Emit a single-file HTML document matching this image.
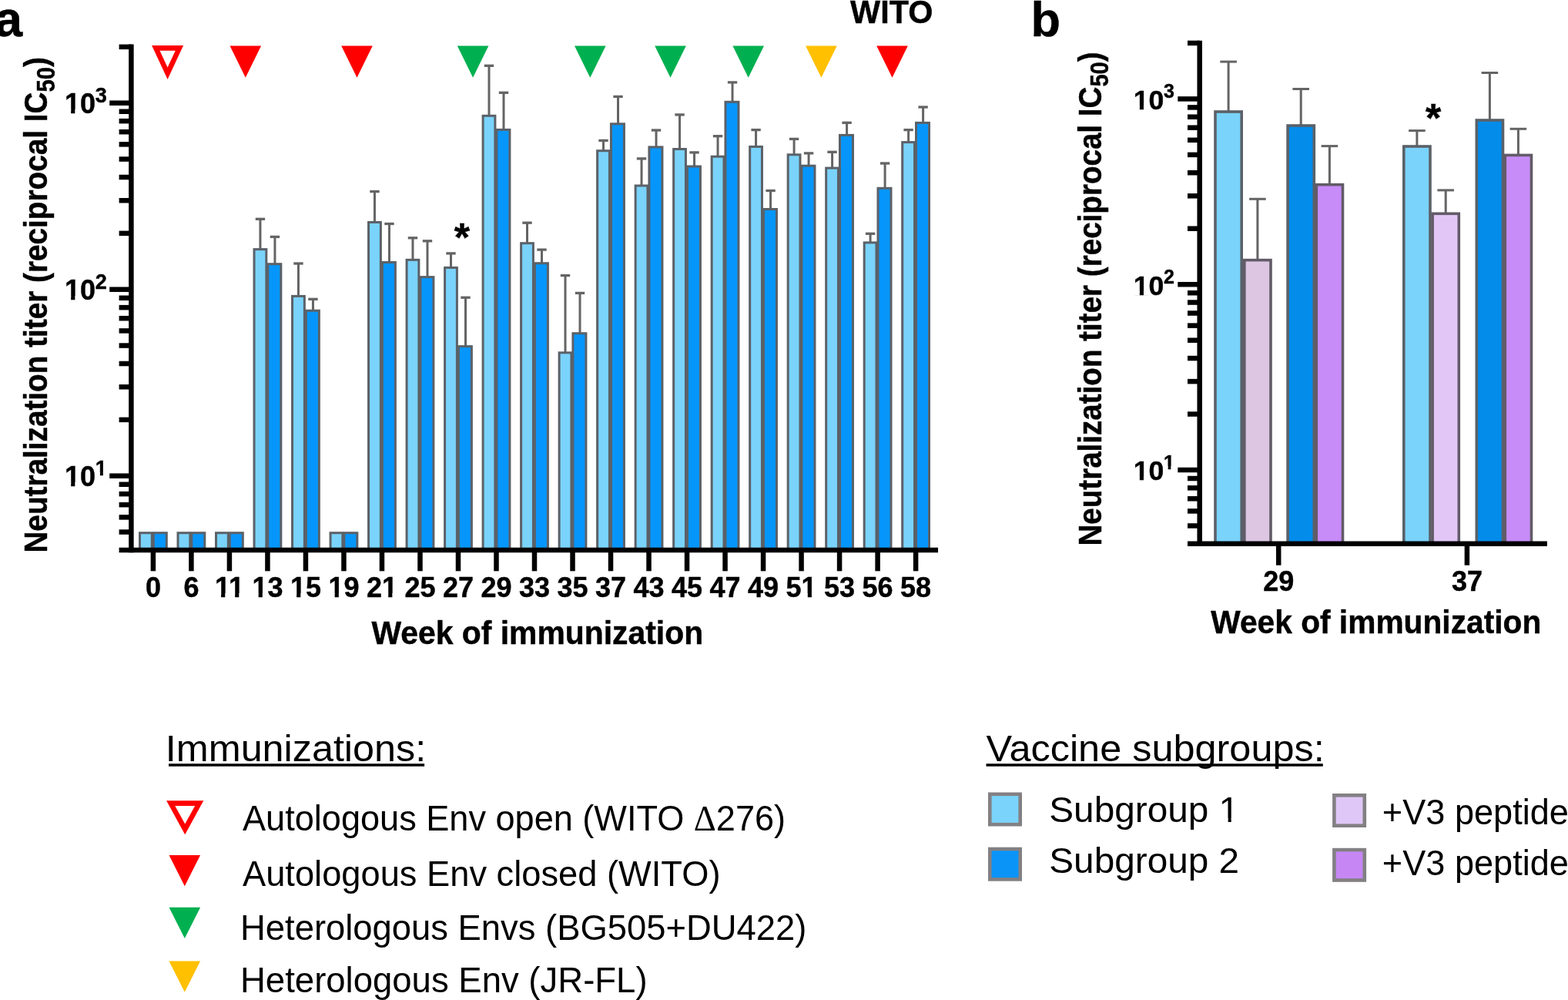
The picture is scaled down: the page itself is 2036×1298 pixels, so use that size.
<!DOCTYPE html>
<html><head><meta charset="utf-8"><title>Neutralization titers</title>
<style>
html,body{margin:0;padding:0;background:#fff;overflow:hidden;}
svg{display:block;}
text{font-family:"Liberation Sans", Arial, Helvetica, sans-serif;fill:#000;}
text[font-weight="bold"]{stroke:#000;stroke-width:0.45px;}
</style></head><body>
<svg width="2036" height="1298" viewBox="0 0 2036 1298">
<rect width="2036" height="1298" fill="#fff"/>
<rect x="181.50" y="691.70" width="15.80" height="22.30" fill="#7AD3FB" stroke="#5B6168" stroke-width="3.0"/>
<rect x="199.30" y="691.70" width="17.00" height="22.30" fill="#0696FB" stroke="#5B6168" stroke-width="3.0"/>
<rect x="231.01" y="691.70" width="15.80" height="22.30" fill="#7AD3FB" stroke="#5B6168" stroke-width="3.0"/>
<rect x="248.81" y="691.70" width="17.00" height="22.30" fill="#0696FB" stroke="#5B6168" stroke-width="3.0"/>
<rect x="280.52" y="691.70" width="15.80" height="22.30" fill="#7AD3FB" stroke="#5B6168" stroke-width="3.0"/>
<rect x="298.32" y="691.70" width="17.00" height="22.30" fill="#0696FB" stroke="#5B6168" stroke-width="3.0"/>
<line x1="337.93" y1="284.30" x2="337.93" y2="323.60" stroke="#646464" stroke-width="3"/>
<line x1="331.73" y1="284.30" x2="344.13" y2="284.30" stroke="#646464" stroke-width="3.3"/>
<rect x="330.03" y="323.60" width="15.80" height="390.40" fill="#7AD3FB" stroke="#5B6168" stroke-width="3.0"/>
<line x1="356.93" y1="307.40" x2="356.93" y2="342.70" stroke="#646464" stroke-width="3"/>
<line x1="350.73" y1="307.40" x2="363.13" y2="307.40" stroke="#646464" stroke-width="3.3"/>
<rect x="347.83" y="342.70" width="17.00" height="371.30" fill="#0696FB" stroke="#5B6168" stroke-width="3.0"/>
<line x1="387.44" y1="342.00" x2="387.44" y2="384.40" stroke="#646464" stroke-width="3"/>
<line x1="381.24" y1="342.00" x2="393.64" y2="342.00" stroke="#646464" stroke-width="3.3"/>
<rect x="379.54" y="384.40" width="15.80" height="329.60" fill="#7AD3FB" stroke="#5B6168" stroke-width="3.0"/>
<line x1="406.44" y1="388.30" x2="406.44" y2="403.20" stroke="#646464" stroke-width="3"/>
<line x1="400.24" y1="388.30" x2="412.64" y2="388.30" stroke="#646464" stroke-width="3.3"/>
<rect x="397.34" y="403.20" width="17.00" height="310.80" fill="#0696FB" stroke="#5B6168" stroke-width="3.0"/>
<rect x="429.05" y="691.70" width="15.80" height="22.30" fill="#7AD3FB" stroke="#5B6168" stroke-width="3.0"/>
<rect x="446.85" y="691.70" width="17.00" height="22.30" fill="#0696FB" stroke="#5B6168" stroke-width="3.0"/>
<line x1="486.46" y1="248.60" x2="486.46" y2="288.50" stroke="#646464" stroke-width="3"/>
<line x1="480.26" y1="248.60" x2="492.66" y2="248.60" stroke="#646464" stroke-width="3.3"/>
<rect x="478.56" y="288.50" width="15.80" height="425.50" fill="#7AD3FB" stroke="#5B6168" stroke-width="3.0"/>
<line x1="505.46" y1="290.50" x2="505.46" y2="340.50" stroke="#646464" stroke-width="3"/>
<line x1="499.26" y1="290.50" x2="511.66" y2="290.50" stroke="#646464" stroke-width="3.3"/>
<rect x="496.36" y="340.50" width="17.00" height="373.50" fill="#0696FB" stroke="#5B6168" stroke-width="3.0"/>
<line x1="535.97" y1="308.80" x2="535.97" y2="337.30" stroke="#646464" stroke-width="3"/>
<line x1="529.77" y1="308.80" x2="542.17" y2="308.80" stroke="#646464" stroke-width="3.3"/>
<rect x="528.07" y="337.30" width="15.80" height="376.70" fill="#7AD3FB" stroke="#5B6168" stroke-width="3.0"/>
<line x1="554.97" y1="312.80" x2="554.97" y2="359.60" stroke="#646464" stroke-width="3"/>
<line x1="548.77" y1="312.80" x2="561.17" y2="312.80" stroke="#646464" stroke-width="3.3"/>
<rect x="545.87" y="359.60" width="17.00" height="354.40" fill="#0696FB" stroke="#5B6168" stroke-width="3.0"/>
<line x1="585.48" y1="328.90" x2="585.48" y2="347.40" stroke="#646464" stroke-width="3"/>
<line x1="579.28" y1="328.90" x2="591.68" y2="328.90" stroke="#646464" stroke-width="3.3"/>
<rect x="577.58" y="347.40" width="15.80" height="366.60" fill="#7AD3FB" stroke="#5B6168" stroke-width="3.0"/>
<line x1="604.48" y1="386.20" x2="604.48" y2="449.60" stroke="#646464" stroke-width="3"/>
<line x1="598.28" y1="386.20" x2="610.68" y2="386.20" stroke="#646464" stroke-width="3.3"/>
<rect x="595.38" y="449.60" width="17.00" height="264.40" fill="#0696FB" stroke="#5B6168" stroke-width="3.0"/>
<line x1="634.99" y1="85.30" x2="634.99" y2="150.30" stroke="#646464" stroke-width="3"/>
<line x1="628.79" y1="85.30" x2="641.19" y2="85.30" stroke="#646464" stroke-width="3.3"/>
<rect x="627.09" y="150.30" width="15.80" height="563.70" fill="#7AD3FB" stroke="#5B6168" stroke-width="3.0"/>
<line x1="653.99" y1="120.30" x2="653.99" y2="168.40" stroke="#646464" stroke-width="3"/>
<line x1="647.79" y1="120.30" x2="660.19" y2="120.30" stroke="#646464" stroke-width="3.3"/>
<rect x="644.89" y="168.40" width="17.00" height="545.60" fill="#0696FB" stroke="#5B6168" stroke-width="3.0"/>
<line x1="684.50" y1="289.20" x2="684.50" y2="315.70" stroke="#646464" stroke-width="3"/>
<line x1="678.30" y1="289.20" x2="690.70" y2="289.20" stroke="#646464" stroke-width="3.3"/>
<rect x="676.60" y="315.70" width="15.80" height="398.30" fill="#7AD3FB" stroke="#5B6168" stroke-width="3.0"/>
<line x1="703.50" y1="324.10" x2="703.50" y2="341.70" stroke="#646464" stroke-width="3"/>
<line x1="697.30" y1="324.10" x2="709.70" y2="324.10" stroke="#646464" stroke-width="3.3"/>
<rect x="694.40" y="341.70" width="17.00" height="372.30" fill="#0696FB" stroke="#5B6168" stroke-width="3.0"/>
<line x1="734.01" y1="357.60" x2="734.01" y2="457.80" stroke="#646464" stroke-width="3"/>
<line x1="727.81" y1="357.60" x2="740.21" y2="357.60" stroke="#646464" stroke-width="3.3"/>
<rect x="726.11" y="457.80" width="15.80" height="256.20" fill="#7AD3FB" stroke="#5B6168" stroke-width="3.0"/>
<line x1="753.01" y1="380.40" x2="753.01" y2="432.70" stroke="#646464" stroke-width="3"/>
<line x1="746.81" y1="380.40" x2="759.21" y2="380.40" stroke="#646464" stroke-width="3.3"/>
<rect x="743.91" y="432.70" width="17.00" height="281.30" fill="#0696FB" stroke="#5B6168" stroke-width="3.0"/>
<line x1="783.52" y1="182.40" x2="783.52" y2="195.70" stroke="#646464" stroke-width="3"/>
<line x1="777.32" y1="182.40" x2="789.72" y2="182.40" stroke="#646464" stroke-width="3.3"/>
<rect x="775.62" y="195.70" width="15.80" height="518.30" fill="#7AD3FB" stroke="#5B6168" stroke-width="3.0"/>
<line x1="802.52" y1="125.40" x2="802.52" y2="160.80" stroke="#646464" stroke-width="3"/>
<line x1="796.32" y1="125.40" x2="808.72" y2="125.40" stroke="#646464" stroke-width="3.3"/>
<rect x="793.42" y="160.80" width="17.00" height="553.20" fill="#0696FB" stroke="#5B6168" stroke-width="3.0"/>
<line x1="833.03" y1="205.90" x2="833.03" y2="241.00" stroke="#646464" stroke-width="3"/>
<line x1="826.83" y1="205.90" x2="839.23" y2="205.90" stroke="#646464" stroke-width="3.3"/>
<rect x="825.13" y="241.00" width="15.80" height="473.00" fill="#7AD3FB" stroke="#5B6168" stroke-width="3.0"/>
<line x1="852.03" y1="169.00" x2="852.03" y2="190.90" stroke="#646464" stroke-width="3"/>
<line x1="845.83" y1="169.00" x2="858.23" y2="169.00" stroke="#646464" stroke-width="3.3"/>
<rect x="842.93" y="190.90" width="17.00" height="523.10" fill="#0696FB" stroke="#5B6168" stroke-width="3.0"/>
<line x1="882.54" y1="148.90" x2="882.54" y2="193.50" stroke="#646464" stroke-width="3"/>
<line x1="876.34" y1="148.90" x2="888.74" y2="148.90" stroke="#646464" stroke-width="3.3"/>
<rect x="874.64" y="193.50" width="15.80" height="520.50" fill="#7AD3FB" stroke="#5B6168" stroke-width="3.0"/>
<line x1="901.54" y1="197.90" x2="901.54" y2="216.00" stroke="#646464" stroke-width="3"/>
<line x1="895.34" y1="197.90" x2="907.74" y2="197.90" stroke="#646464" stroke-width="3.3"/>
<rect x="892.44" y="216.00" width="17.00" height="498.00" fill="#0696FB" stroke="#5B6168" stroke-width="3.0"/>
<line x1="932.05" y1="176.70" x2="932.05" y2="203.20" stroke="#646464" stroke-width="3"/>
<line x1="925.85" y1="176.70" x2="938.25" y2="176.70" stroke="#646464" stroke-width="3.3"/>
<rect x="924.15" y="203.20" width="15.80" height="510.80" fill="#7AD3FB" stroke="#5B6168" stroke-width="3.0"/>
<line x1="951.05" y1="106.90" x2="951.05" y2="132.30" stroke="#646464" stroke-width="3"/>
<line x1="944.85" y1="106.90" x2="957.25" y2="106.90" stroke="#646464" stroke-width="3.3"/>
<rect x="941.95" y="132.30" width="17.00" height="581.70" fill="#0696FB" stroke="#5B6168" stroke-width="3.0"/>
<line x1="981.56" y1="168.60" x2="981.56" y2="190.40" stroke="#646464" stroke-width="3"/>
<line x1="975.36" y1="168.60" x2="987.76" y2="168.60" stroke="#646464" stroke-width="3.3"/>
<rect x="973.66" y="190.40" width="15.80" height="523.60" fill="#7AD3FB" stroke="#5B6168" stroke-width="3.0"/>
<line x1="1000.56" y1="247.50" x2="1000.56" y2="271.50" stroke="#646464" stroke-width="3"/>
<line x1="994.36" y1="247.50" x2="1006.76" y2="247.50" stroke="#646464" stroke-width="3.3"/>
<rect x="991.46" y="271.50" width="17.00" height="442.50" fill="#0696FB" stroke="#5B6168" stroke-width="3.0"/>
<line x1="1031.07" y1="180.40" x2="1031.07" y2="200.80" stroke="#646464" stroke-width="3"/>
<line x1="1024.87" y1="180.40" x2="1037.27" y2="180.40" stroke="#646464" stroke-width="3.3"/>
<rect x="1023.17" y="200.80" width="15.80" height="513.20" fill="#7AD3FB" stroke="#5B6168" stroke-width="3.0"/>
<line x1="1050.07" y1="198.90" x2="1050.07" y2="215.20" stroke="#646464" stroke-width="3"/>
<line x1="1043.87" y1="198.90" x2="1056.27" y2="198.90" stroke="#646464" stroke-width="3.3"/>
<rect x="1040.97" y="215.20" width="17.00" height="498.80" fill="#0696FB" stroke="#5B6168" stroke-width="3.0"/>
<line x1="1080.58" y1="197.30" x2="1080.58" y2="218.10" stroke="#646464" stroke-width="3"/>
<line x1="1074.38" y1="197.30" x2="1086.78" y2="197.30" stroke="#646464" stroke-width="3.3"/>
<rect x="1072.68" y="218.10" width="15.80" height="495.90" fill="#7AD3FB" stroke="#5B6168" stroke-width="3.0"/>
<line x1="1099.58" y1="159.30" x2="1099.58" y2="175.40" stroke="#646464" stroke-width="3"/>
<line x1="1093.38" y1="159.30" x2="1105.78" y2="159.30" stroke="#646464" stroke-width="3.3"/>
<rect x="1090.48" y="175.40" width="17.00" height="538.60" fill="#0696FB" stroke="#5B6168" stroke-width="3.0"/>
<line x1="1130.09" y1="303.30" x2="1130.09" y2="314.90" stroke="#646464" stroke-width="3"/>
<line x1="1123.89" y1="303.30" x2="1136.29" y2="303.30" stroke="#646464" stroke-width="3.3"/>
<rect x="1122.19" y="314.90" width="15.80" height="399.10" fill="#7AD3FB" stroke="#5B6168" stroke-width="3.0"/>
<line x1="1149.09" y1="212.00" x2="1149.09" y2="244.30" stroke="#646464" stroke-width="3"/>
<line x1="1142.89" y1="212.00" x2="1155.29" y2="212.00" stroke="#646464" stroke-width="3.3"/>
<rect x="1139.99" y="244.30" width="17.00" height="469.70" fill="#0696FB" stroke="#5B6168" stroke-width="3.0"/>
<line x1="1179.60" y1="168.60" x2="1179.60" y2="184.60" stroke="#646464" stroke-width="3"/>
<line x1="1173.40" y1="168.60" x2="1185.80" y2="168.60" stroke="#646464" stroke-width="3.3"/>
<rect x="1171.70" y="184.60" width="15.80" height="529.40" fill="#7AD3FB" stroke="#5B6168" stroke-width="3.0"/>
<line x1="1198.60" y1="139.00" x2="1198.60" y2="159.40" stroke="#646464" stroke-width="3"/>
<line x1="1192.40" y1="139.00" x2="1204.80" y2="139.00" stroke="#646464" stroke-width="3.3"/>
<rect x="1189.50" y="159.40" width="17.00" height="554.60" fill="#0696FB" stroke="#5B6168" stroke-width="3.0"/>
<line x1="198.90" y1="714.00" x2="198.90" y2="741.3" stroke="#000" stroke-width="6.5"/>
<text x="198.90" y="774.9" font-size="36" font-weight="bold" text-anchor="middle">0</text>
<line x1="248.41" y1="714.00" x2="248.41" y2="741.3" stroke="#000" stroke-width="6.5"/>
<text x="248.41" y="774.9" font-size="36" font-weight="bold" text-anchor="middle">6</text>
<line x1="297.92" y1="714.00" x2="297.92" y2="741.3" stroke="#000" stroke-width="6.5"/>
<text x="297.92" y="774.9" font-size="36" font-weight="bold" text-anchor="middle">11</text>
<line x1="347.43" y1="714.00" x2="347.43" y2="741.3" stroke="#000" stroke-width="6.5"/>
<text x="347.43" y="774.9" font-size="36" font-weight="bold" text-anchor="middle">13</text>
<line x1="396.94" y1="714.00" x2="396.94" y2="741.3" stroke="#000" stroke-width="6.5"/>
<text x="396.94" y="774.9" font-size="36" font-weight="bold" text-anchor="middle">15</text>
<line x1="446.45" y1="714.00" x2="446.45" y2="741.3" stroke="#000" stroke-width="6.5"/>
<text x="446.45" y="774.9" font-size="36" font-weight="bold" text-anchor="middle">19</text>
<line x1="495.96" y1="714.00" x2="495.96" y2="741.3" stroke="#000" stroke-width="6.5"/>
<text x="495.96" y="774.9" font-size="36" font-weight="bold" text-anchor="middle">21</text>
<line x1="545.47" y1="714.00" x2="545.47" y2="741.3" stroke="#000" stroke-width="6.5"/>
<text x="545.47" y="774.9" font-size="36" font-weight="bold" text-anchor="middle">25</text>
<line x1="594.98" y1="714.00" x2="594.98" y2="741.3" stroke="#000" stroke-width="6.5"/>
<text x="594.98" y="774.9" font-size="36" font-weight="bold" text-anchor="middle">27</text>
<line x1="644.49" y1="714.00" x2="644.49" y2="741.3" stroke="#000" stroke-width="6.5"/>
<text x="644.49" y="774.9" font-size="36" font-weight="bold" text-anchor="middle">29</text>
<line x1="694.00" y1="714.00" x2="694.00" y2="741.3" stroke="#000" stroke-width="6.5"/>
<text x="694.00" y="774.9" font-size="36" font-weight="bold" text-anchor="middle">33</text>
<line x1="743.51" y1="714.00" x2="743.51" y2="741.3" stroke="#000" stroke-width="6.5"/>
<text x="743.51" y="774.9" font-size="36" font-weight="bold" text-anchor="middle">35</text>
<line x1="793.02" y1="714.00" x2="793.02" y2="741.3" stroke="#000" stroke-width="6.5"/>
<text x="793.02" y="774.9" font-size="36" font-weight="bold" text-anchor="middle">37</text>
<line x1="842.53" y1="714.00" x2="842.53" y2="741.3" stroke="#000" stroke-width="6.5"/>
<text x="842.53" y="774.9" font-size="36" font-weight="bold" text-anchor="middle">43</text>
<line x1="892.04" y1="714.00" x2="892.04" y2="741.3" stroke="#000" stroke-width="6.5"/>
<text x="892.04" y="774.9" font-size="36" font-weight="bold" text-anchor="middle">45</text>
<line x1="941.55" y1="714.00" x2="941.55" y2="741.3" stroke="#000" stroke-width="6.5"/>
<text x="941.55" y="774.9" font-size="36" font-weight="bold" text-anchor="middle">47</text>
<line x1="991.06" y1="714.00" x2="991.06" y2="741.3" stroke="#000" stroke-width="6.5"/>
<text x="991.06" y="774.9" font-size="36" font-weight="bold" text-anchor="middle">49</text>
<line x1="1040.57" y1="714.00" x2="1040.57" y2="741.3" stroke="#000" stroke-width="6.5"/>
<text x="1040.57" y="774.9" font-size="36" font-weight="bold" text-anchor="middle">51</text>
<line x1="1090.08" y1="714.00" x2="1090.08" y2="741.3" stroke="#000" stroke-width="6.5"/>
<text x="1090.08" y="774.9" font-size="36" font-weight="bold" text-anchor="middle">53</text>
<line x1="1139.59" y1="714.00" x2="1139.59" y2="741.3" stroke="#000" stroke-width="6.5"/>
<text x="1139.59" y="774.9" font-size="36" font-weight="bold" text-anchor="middle">56</text>
<line x1="1189.10" y1="714.00" x2="1189.10" y2="741.3" stroke="#000" stroke-width="6.5"/>
<text x="1189.10" y="774.9" font-size="36" font-weight="bold" text-anchor="middle">58</text>
<line x1="170.4" y1="57.60" x2="170.4" y2="717.25" stroke="#000" stroke-width="6.5"/>
<line x1="154.6" y1="690.55" x2="170.4" y2="690.55" stroke="#000" stroke-width="6.5"/>
<line x1="154.6" y1="671.39" x2="170.4" y2="671.39" stroke="#000" stroke-width="6.5"/>
<line x1="154.6" y1="655.19" x2="170.4" y2="655.19" stroke="#000" stroke-width="6.5"/>
<line x1="154.6" y1="641.15" x2="170.4" y2="641.15" stroke="#000" stroke-width="6.5"/>
<line x1="154.6" y1="628.77" x2="170.4" y2="628.77" stroke="#000" stroke-width="6.5"/>
<line x1="142.2" y1="617.70" x2="170.4" y2="617.70" stroke="#000" stroke-width="6.5"/>
<line x1="154.6" y1="544.85" x2="170.4" y2="544.85" stroke="#000" stroke-width="6.5"/>
<line x1="154.6" y1="502.24" x2="170.4" y2="502.24" stroke="#000" stroke-width="6.5"/>
<line x1="154.6" y1="472.00" x2="170.4" y2="472.00" stroke="#000" stroke-width="6.5"/>
<line x1="154.6" y1="448.55" x2="170.4" y2="448.55" stroke="#000" stroke-width="6.5"/>
<line x1="154.6" y1="429.39" x2="170.4" y2="429.39" stroke="#000" stroke-width="6.5"/>
<line x1="154.6" y1="413.19" x2="170.4" y2="413.19" stroke="#000" stroke-width="6.5"/>
<line x1="154.6" y1="399.15" x2="170.4" y2="399.15" stroke="#000" stroke-width="6.5"/>
<line x1="154.6" y1="386.77" x2="170.4" y2="386.77" stroke="#000" stroke-width="6.5"/>
<line x1="142.2" y1="375.70" x2="170.4" y2="375.70" stroke="#000" stroke-width="6.5"/>
<line x1="154.6" y1="302.85" x2="170.4" y2="302.85" stroke="#000" stroke-width="6.5"/>
<line x1="154.6" y1="260.24" x2="170.4" y2="260.24" stroke="#000" stroke-width="6.5"/>
<line x1="154.6" y1="230.00" x2="170.4" y2="230.00" stroke="#000" stroke-width="6.5"/>
<line x1="154.6" y1="206.55" x2="170.4" y2="206.55" stroke="#000" stroke-width="6.5"/>
<line x1="154.6" y1="187.39" x2="170.4" y2="187.39" stroke="#000" stroke-width="6.5"/>
<line x1="154.6" y1="171.19" x2="170.4" y2="171.19" stroke="#000" stroke-width="6.5"/>
<line x1="154.6" y1="157.15" x2="170.4" y2="157.15" stroke="#000" stroke-width="6.5"/>
<line x1="154.6" y1="144.77" x2="170.4" y2="144.77" stroke="#000" stroke-width="6.5"/>
<line x1="142.2" y1="133.70" x2="170.4" y2="133.70" stroke="#000" stroke-width="6.5"/>
<line x1="154.6" y1="60.85" x2="170.4" y2="60.85" stroke="#000" stroke-width="6.5"/>
<line x1="154.6" y1="714.00" x2="1218" y2="714.00" stroke="#000" stroke-width="6.5"/>
<polygon points="197.10,59.10 238.10,59.10 217.60,103.00" fill="#FF0000"/>
<polygon points="207.47,65.70 227.73,65.70 217.60,87.40" fill="#fff"/>
<polygon points="298.50,59.60 339.10,59.60 318.80,100.80" fill="#FF0000"/>
<polygon points="443.20,59.60 483.80,59.60 463.50,100.80" fill="#FF0000"/>
<polygon points="593.80,59.60 634.40,59.60 614.10,100.80" fill="#00B050"/>
<polygon points="746.00,59.60 786.60,59.60 766.30,100.80" fill="#00B050"/>
<polygon points="850.20,59.60 890.80,59.60 870.50,100.80" fill="#00B050"/>
<polygon points="951.40,59.60 992.00,59.60 971.70,100.80" fill="#00B050"/>
<polygon points="1046.10,59.60 1086.70,59.60 1066.40,100.80" fill="#FFC000"/>
<polygon points="1138.20,59.60 1178.80,59.60 1158.50,100.80" fill="#FF0000"/>
<text x="-7" y="46.9" font-size="65" font-weight="bold">a</text>
<text x="0" y="0" font-size="43" font-weight="bold" transform="translate(1104.10,30.20) scale(0.9627,1)">WITO</text>
<text x="0" y="0" font-size="42" font-weight="bold" transform="translate(482.40,836.30) scale(0.9732,1)">Week of immunization</text>
<text font-size="43" font-weight="bold" transform="translate(61.4,717.6) rotate(-90) scale(0.9008,1)" x="0" y="0">Neutralization titer (reciprocal IC<tspan font-size="32.5" dy="9.5">50</tspan><tspan dy="-9.5">)</tspan></text>
<text y="630.90" font-size="36" font-weight="bold" text-anchor="end" x="124.00">10</text>
<text y="616.90" font-size="27" font-weight="bold" x="123.80">1</text>
<text y="388.90" font-size="36" font-weight="bold" text-anchor="end" x="124.00">10</text>
<text y="374.90" font-size="27" font-weight="bold" x="123.80">2</text>
<text y="146.90" font-size="36" font-weight="bold" text-anchor="end" x="124.00">10</text>
<text y="132.90" font-size="27" font-weight="bold" x="123.80">3</text>
<text x="599.8" y="325.5" font-size="52" font-weight="bold" text-anchor="middle">*</text>
<line x1="1595.10" y1="80.10" x2="1595.10" y2="145.00" stroke="#646464" stroke-width="3"/>
<line x1="1584.30" y1="80.10" x2="1605.90" y2="80.10" stroke="#646464" stroke-width="3"/>
<rect x="1578.00" y="145.00" width="34.2" height="560.82" fill="#7AD3FB" stroke="#5B6168" stroke-width="3.6"/>
<line x1="1632.90" y1="258.30" x2="1632.90" y2="337.60" stroke="#646464" stroke-width="3"/>
<line x1="1622.10" y1="258.30" x2="1643.70" y2="258.30" stroke="#646464" stroke-width="3"/>
<rect x="1615.80" y="337.60" width="34.2" height="368.22" fill="#DCC6E2" stroke="#625B68" stroke-width="3.6"/>
<line x1="1689.20" y1="115.50" x2="1689.20" y2="163.00" stroke="#646464" stroke-width="3"/>
<line x1="1678.40" y1="115.50" x2="1700.00" y2="115.50" stroke="#646464" stroke-width="3"/>
<rect x="1672.10" y="163.00" width="34.2" height="542.82" fill="#038CEA" stroke="#5B6168" stroke-width="3.6"/>
<line x1="1726.40" y1="189.60" x2="1726.40" y2="239.70" stroke="#646464" stroke-width="3"/>
<line x1="1715.60" y1="189.60" x2="1737.20" y2="189.60" stroke="#646464" stroke-width="3"/>
<rect x="1709.30" y="239.70" width="34.2" height="466.12" fill="#C78CF8" stroke="#625B68" stroke-width="3.6"/>
<line x1="1839.90" y1="169.60" x2="1839.90" y2="190.00" stroke="#646464" stroke-width="3"/>
<line x1="1829.10" y1="169.60" x2="1850.70" y2="169.60" stroke="#646464" stroke-width="3"/>
<rect x="1822.80" y="190.00" width="34.2" height="515.82" fill="#7AD3FB" stroke="#5B6168" stroke-width="3.6"/>
<line x1="1877.20" y1="246.90" x2="1877.20" y2="277.30" stroke="#646464" stroke-width="3"/>
<line x1="1866.40" y1="246.90" x2="1888.00" y2="246.90" stroke="#646464" stroke-width="3"/>
<rect x="1860.10" y="277.30" width="34.2" height="428.52" fill="#E2C7F6" stroke="#625B68" stroke-width="3.6"/>
<line x1="1934.40" y1="94.50" x2="1934.40" y2="156.00" stroke="#646464" stroke-width="3"/>
<line x1="1923.60" y1="94.50" x2="1945.20" y2="94.50" stroke="#646464" stroke-width="3"/>
<rect x="1917.30" y="156.00" width="34.2" height="549.82" fill="#038CEA" stroke="#5B6168" stroke-width="3.6"/>
<line x1="1971.40" y1="167.30" x2="1971.40" y2="201.40" stroke="#646464" stroke-width="3"/>
<line x1="1960.60" y1="167.30" x2="1982.20" y2="167.30" stroke="#646464" stroke-width="3"/>
<rect x="1954.30" y="201.40" width="34.2" height="504.42" fill="#C78CF8" stroke="#625B68" stroke-width="3.6"/>
<line x1="1557.7" y1="52.66" x2="1557.7" y2="709.07" stroke="#000" stroke-width="6.5"/>
<line x1="1542" y1="682.49" x2="1557.7" y2="682.49" stroke="#000" stroke-width="6.5"/>
<line x1="1542" y1="663.42" x2="1557.7" y2="663.42" stroke="#000" stroke-width="6.5"/>
<line x1="1542" y1="647.30" x2="1557.7" y2="647.30" stroke="#000" stroke-width="6.5"/>
<line x1="1542" y1="633.34" x2="1557.7" y2="633.34" stroke="#000" stroke-width="6.5"/>
<line x1="1542" y1="621.02" x2="1557.7" y2="621.02" stroke="#000" stroke-width="6.5"/>
<line x1="1529.3" y1="610.00" x2="1557.7" y2="610.00" stroke="#000" stroke-width="6.5"/>
<line x1="1542" y1="537.51" x2="1557.7" y2="537.51" stroke="#000" stroke-width="6.5"/>
<line x1="1542" y1="495.11" x2="1557.7" y2="495.11" stroke="#000" stroke-width="6.5"/>
<line x1="1542" y1="465.02" x2="1557.7" y2="465.02" stroke="#000" stroke-width="6.5"/>
<line x1="1542" y1="441.69" x2="1557.7" y2="441.69" stroke="#000" stroke-width="6.5"/>
<line x1="1542" y1="422.62" x2="1557.7" y2="422.62" stroke="#000" stroke-width="6.5"/>
<line x1="1542" y1="406.50" x2="1557.7" y2="406.50" stroke="#000" stroke-width="6.5"/>
<line x1="1542" y1="392.54" x2="1557.7" y2="392.54" stroke="#000" stroke-width="6.5"/>
<line x1="1542" y1="380.22" x2="1557.7" y2="380.22" stroke="#000" stroke-width="6.5"/>
<line x1="1529.3" y1="369.20" x2="1557.7" y2="369.20" stroke="#000" stroke-width="6.5"/>
<line x1="1542" y1="296.71" x2="1557.7" y2="296.71" stroke="#000" stroke-width="6.5"/>
<line x1="1542" y1="254.31" x2="1557.7" y2="254.31" stroke="#000" stroke-width="6.5"/>
<line x1="1542" y1="224.22" x2="1557.7" y2="224.22" stroke="#000" stroke-width="6.5"/>
<line x1="1542" y1="200.89" x2="1557.7" y2="200.89" stroke="#000" stroke-width="6.5"/>
<line x1="1542" y1="181.82" x2="1557.7" y2="181.82" stroke="#000" stroke-width="6.5"/>
<line x1="1542" y1="165.70" x2="1557.7" y2="165.70" stroke="#000" stroke-width="6.5"/>
<line x1="1542" y1="151.74" x2="1557.7" y2="151.74" stroke="#000" stroke-width="6.5"/>
<line x1="1542" y1="139.42" x2="1557.7" y2="139.42" stroke="#000" stroke-width="6.5"/>
<line x1="1529.3" y1="128.40" x2="1557.7" y2="128.40" stroke="#000" stroke-width="6.5"/>
<line x1="1542" y1="55.91" x2="1557.7" y2="55.91" stroke="#000" stroke-width="6.5"/>
<line x1="1542" y1="705.82" x2="2008.9" y2="705.82" stroke="#000" stroke-width="6.5"/>
<line x1="1660.2" y1="705.82" x2="1660.2" y2="733.7" stroke="#000" stroke-width="6.5"/>
<text x="1660.2" y="767.4" font-size="36" font-weight="bold" text-anchor="middle">29</text>
<line x1="1904.9" y1="705.82" x2="1904.9" y2="733.7" stroke="#000" stroke-width="6.5"/>
<text x="1904.9" y="767.4" font-size="36" font-weight="bold" text-anchor="middle">37</text>
<text x="1338.5" y="47.2" font-size="63" font-weight="bold">b</text>
<text x="0" y="0" font-size="42" font-weight="bold" transform="translate(1572.20,822.40) scale(0.9695,1)">Week of immunization</text>
<text font-size="43" font-weight="bold" transform="translate(1429.5,708.6) rotate(-90) scale(0.8975,1)" x="0" y="0">Neutralization titer (reciprocal IC<tspan font-size="32.5" dy="9.5">50</tspan><tspan dy="-9.5">)</tspan></text>
<text y="623.30" font-size="35.6" font-weight="bold" text-anchor="end" x="1511.30">10</text>
<text y="608.70" font-size="25" font-weight="bold" x="1511.00">1</text>
<text y="382.50" font-size="35.6" font-weight="bold" text-anchor="end" x="1511.30">10</text>
<text y="367.90" font-size="25" font-weight="bold" x="1511.00">2</text>
<text y="141.70" font-size="35.6" font-weight="bold" text-anchor="end" x="1511.30">10</text>
<text y="127.10" font-size="25" font-weight="bold" x="1511.00">3</text>
<text x="1861.2" y="170.5" font-size="52" font-weight="bold" text-anchor="middle">*</text>
<text x="0" y="0" font-size="48.5" transform="translate(214.85,987.60) scale(1.0374,1)">Immunizations:</text>
<line x1="219" y1="993" x2="551.1" y2="993" stroke="#000" stroke-width="3.7"/>
<polygon points="216.10,1039.30 264.30,1039.30 240.20,1083.20" fill="#FF0000"/>
<polygon points="227.25,1045.90 253.15,1045.90 240.20,1069.49" fill="#fff"/>
<polygon points="219.50,1110.00 260.10,1110.00 239.80,1150.20" fill="#FF0000"/>
<polygon points="219.50,1177.80 260.10,1177.80 239.80,1218.10" fill="#00B050"/>
<polygon points="219.50,1247.50 260.10,1247.50 239.80,1287.70" fill="#FFC000"/>
<text x="0" y="0" font-size="45.6" transform="translate(315.00,1078.30) scale(0.9894,1)">Autologous Env open (WITO <tspan font-family='Liberation Serif'>Δ</tspan>276)</text>
<text x="0" y="0" font-size="45.6" transform="translate(315.00,1150.20) scale(0.9928,1)">Autologous Env closed (WITO)</text>
<text x="0" y="0" font-size="45.6" transform="translate(312.02,1219.60) scale(0.9954,1)">Heterologous Envs (BG505+DU422)</text>
<text x="0" y="0" font-size="45.6" transform="translate(312.01,1287.70) scale(0.9981,1)">Heterologous Env (JR-FL)</text>
<text x="0" y="0" font-size="47.5" transform="translate(1280.50,987.60) scale(1.0621,1)">Vaccine subgroups:</text>
<line x1="1280.5" y1="993" x2="1717.8" y2="993" stroke="#000" stroke-width="3.7"/>
<rect x="1285.30" y="1030.80" width="39.4" height="39.4" fill="#7AD3FB" stroke="#838083" stroke-width="4.6"/>
<rect x="1285.30" y="1102.00" width="39.4" height="39.4" fill="#0A94F8" stroke="#838083" stroke-width="4.6"/>
<rect x="1732.40" y="1032.30" width="39.4" height="39.4" fill="#DFC7F7" stroke="#838083" stroke-width="4.6"/>
<rect x="1732.40" y="1103.10" width="39.4" height="39.4" fill="#C687F5" stroke="#838083" stroke-width="4.6"/>
<text x="0" y="0" font-size="47" transform="translate(1362.27,1066.70) scale(1.0160,1)">Subgroup 1</text>
<text x="0" y="0" font-size="47" transform="translate(1362.27,1133.40) scale(1.0160,1)">Subgroup 2</text>
<text x="0" y="0" font-size="46.8" transform="translate(1794.87,1069.80) scale(0.9641,1)">+V3 peptide</text>
<text x="0" y="0" font-size="46.8" transform="translate(1794.87,1136.40) scale(0.9641,1)">+V3 peptide</text>
<rect x="279.99" y="770.19" width="7.10" height="5.91" fill="#fff"/>
<rect x="292.28" y="770.19" width="6.71" height="5.91" fill="#fff"/>
<rect x="298.02" y="770.19" width="7.10" height="5.91" fill="#fff"/>
<rect x="310.31" y="770.19" width="6.71" height="5.91" fill="#fff"/>
<rect x="328.51" y="770.19" width="7.10" height="5.91" fill="#fff"/>
<rect x="340.80" y="770.19" width="6.71" height="5.91" fill="#fff"/>
<rect x="378.02" y="770.19" width="7.10" height="5.91" fill="#fff"/>
<rect x="390.31" y="770.19" width="6.71" height="5.91" fill="#fff"/>
<rect x="427.53" y="770.19" width="7.10" height="5.91" fill="#fff"/>
<rect x="439.82" y="770.19" width="6.71" height="5.91" fill="#fff"/>
<rect x="497.06" y="770.19" width="7.10" height="5.91" fill="#fff"/>
<rect x="509.34" y="770.19" width="6.71" height="5.91" fill="#fff"/>
<rect x="1041.67" y="770.19" width="7.10" height="5.91" fill="#fff"/>
<rect x="1053.95" y="770.19" width="6.71" height="5.91" fill="#fff"/>
<rect x="85.06" y="626.19" width="7.10" height="5.91" fill="#fff"/>
<rect x="97.35" y="626.19" width="6.71" height="5.91" fill="#fff"/>
<rect x="124.33" y="613.12" width="5.58" height="4.98" fill="#fff"/>
<rect x="133.89" y="613.12" width="5.29" height="4.98" fill="#fff"/>
<rect x="85.06" y="384.19" width="7.10" height="5.91" fill="#fff"/>
<rect x="97.35" y="384.19" width="6.71" height="5.91" fill="#fff"/>
<rect x="85.06" y="142.19" width="7.10" height="5.91" fill="#fff"/>
<rect x="97.35" y="142.19" width="6.71" height="5.91" fill="#fff"/>
<rect x="1472.80" y="618.63" width="7.04" height="5.87" fill="#fff"/>
<rect x="1484.97" y="618.63" width="6.64" height="5.87" fill="#fff"/>
<rect x="1511.40" y="605.12" width="5.25" height="4.78" fill="#fff"/>
<rect x="1520.36" y="605.12" width="4.97" height="4.78" fill="#fff"/>
<rect x="1472.80" y="377.83" width="7.04" height="5.87" fill="#fff"/>
<rect x="1484.97" y="377.83" width="6.64" height="5.87" fill="#fff"/>
<rect x="1472.80" y="137.03" width="7.04" height="5.87" fill="#fff"/>
<rect x="1484.97" y="137.03" width="6.64" height="5.87" fill="#fff"/>
<rect x="1584.96" y="1062.17" width="9.67" height="5.72" fill="#fff"/>
<rect x="1598.69" y="1062.17" width="9.29" height="5.72" fill="#fff"/>
</svg>
</body></html>
